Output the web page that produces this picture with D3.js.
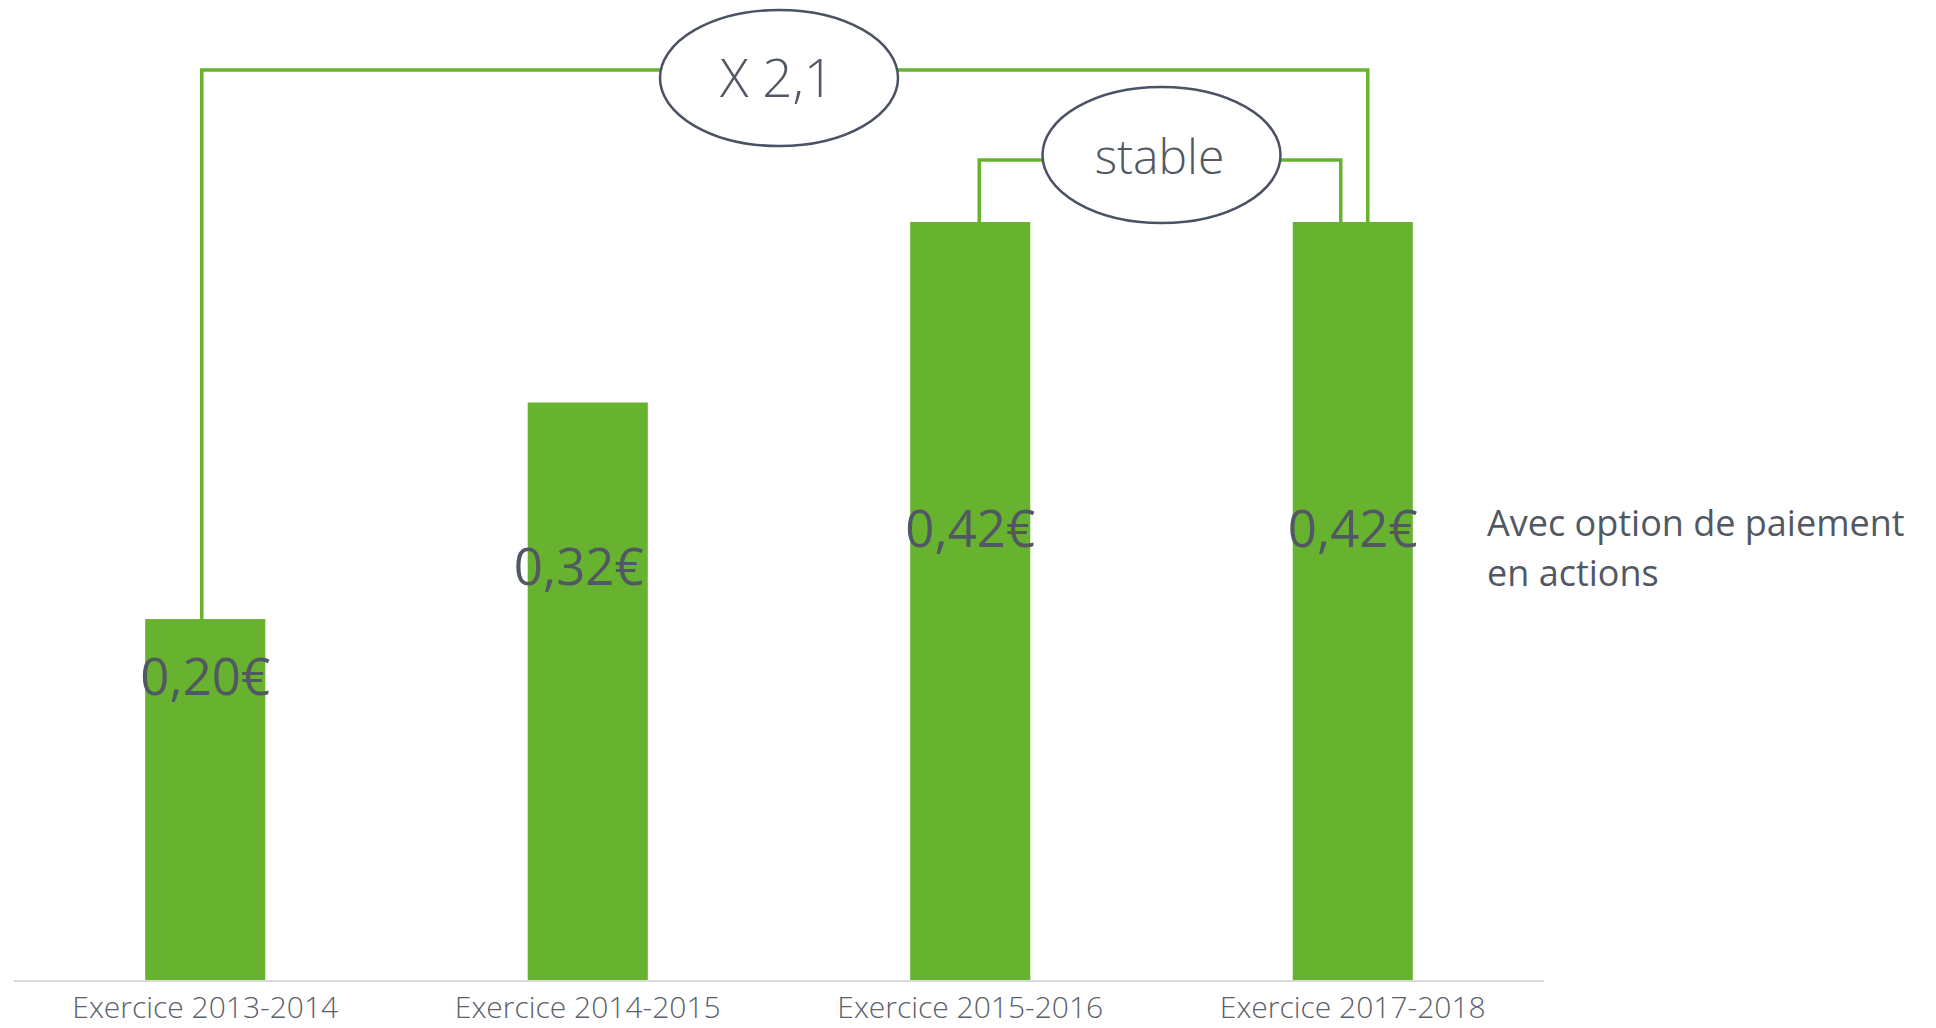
<!DOCTYPE html>
<html>
<head>
<meta charset="utf-8">
<script src="https://cdnjs.cloudflare.com/ajax/libs/d3/7.8.5/d3.min.js"></script>
<style>
  body { margin: 0; background: #fff; }
  svg text { font-family: "Open Sans", "DejaVu Sans", sans-serif; }
</style>
</head>
<body>
<script>
/* Data */
var exercices = ["Exercice 2013-2014", "Exercice 2014-2015", "Exercice 2015-2016", "Exercice 2017-2018"];
var dividendes = [0.20, 0.32, 0.42, 0.42];
var valueLabels = ["0,20€", "0,32€", "0,42€", "0,42€"];
// level (in euros) where each value label sits inside its bar
var labelLevels = [0.158, 0.219, 0.240, 0.240];
var brackets = [
	{from: 0, to: 3, label: "X 2,1"},
	{from: 2, to: 3, label: "stable"}
];
var noteLines = ["Avec option de paiement", "en actions"];

/* Display setup */
var width = 1936, height = 1028,
	green = "#67b22f",
	textGrey = "#515863",
	svg = d3.select("body").append("svg")
		.attr("width", width)
		.attr("height", height);

var x = d3.scaleBand()
	.domain(exercices)
	.range([14, 1544])
	.paddingInner(0.686)
	.paddingOuter(0.343);

var y = d3.scaleLinear()
	.domain([0, 0.42])
	.range([980, 222]);

function cx(i) { return x(exercices[i]) + x.bandwidth() / 2; }

/* Bars */
svg.append("g").selectAll("rect")
	.data(dividendes)
	.enter().append("rect")
		.attr("x", function(d, i) { return x(exercices[i]); })
		.attr("y", function(d) { return y(d); })
		.attr("width", x.bandwidth())
		.attr("height", function(d) { return y(0) - y(d); })
		.style("fill", green);

/* Axis */
var axis = svg.append("g")
	.attr("transform", "translate(0," + y(0) + ")")
	.call(d3.axisBottom(x).tickSize(0).tickPadding(17));
axis.select(".domain")
	.attr("d", "M14,1H1544")
	.style("stroke", "#d9d9d9")
	.style("stroke-width", 2);
axis.selectAll("text")
	.style("font-size", "30px")
	.style("font-weight", 300)
	.style("fill", "#5b616b")
	.attr("dy", "0.71em");

/* Value labels */
svg.append("g").selectAll("text")
	.data(valueLabels)
	.enter().append("text")
		.attr("x", function(d, i) { return cx(i) + (i == 1 ? -9 : 0); })
		.attr("y", function(d, i) { return y(labelLevels[i]); })
		.attr("text-anchor", "middle")
		.style("font-size", "51px")
		.style("fill", textGrey)
		.text(function(d) { return d; });

/* Brackets with ellipses */
var bracketY = [70, 160];
var ellipseY = [78, 155];
var offsets = [[-3.5, 15], [9, -12]];
var ell = {rx: 119, ry: 68};

brackets.forEach(function(b, k) {
	var x0 = cx(b.from) + offsets[k][0],
		x1 = cx(b.to) + offsets[k][1],
		mid = (cx(b.from) + cx(b.to)) / 2,
		ly = bracketY[k],
		ey = ellipseY[k];
	var g = svg.append("g");
	g.append("path")
		.attr("d", "M" + x0 + "," + y(dividendes[b.from]) + "V" + ly + "H" + (mid - ell.rx + 2))
		.style("fill", "none").style("stroke", green).style("stroke-width", 3.5);
	g.append("path")
		.attr("d", "M" + (mid + ell.rx - 2) + "," + ly + "H" + x1 + "V" + y(dividendes[b.to]))
		.style("fill", "none").style("stroke", green).style("stroke-width", 3.5);
	g.append("ellipse")
		.attr("cx", mid)
		.attr("cy", ey)
		.attr("rx", ell.rx)
		.attr("ry", ell.ry)
		.style("fill", "white")
		.style("stroke", "#4b5263")
		.style("stroke-width", 2.5);
	g.append("text")
		.attr("x", mid - 2)
		.attr("y", ey + 19)
		.attr("text-anchor", "middle")
		.style("font-size", k == 0 ? "53px" : "48px")
		.style("font-weight", 300)
		.style("fill", textGrey)
		.text(b.label);
});

/* Side note */
svg.append("g").selectAll("text")
	.data(noteLines)
	.enter().append("text")
		.attr("x", 1487)
		.attr("y", function(d, i) { return 536 + i * 50; })
		.style("font-size", "36px")
		.style("fill", textGrey)
		.text(function(d) { return d; });
</script>
</body>
</html>
